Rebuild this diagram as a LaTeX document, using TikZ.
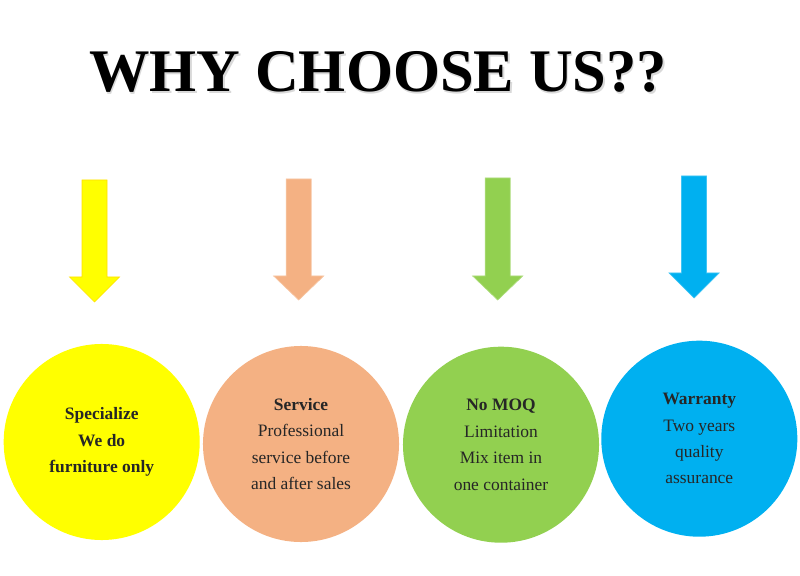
\documentclass[tikz,border=0pt]{standalone}
\usepackage{fontspec}
\setmainfont{Liberation Serif}
\definecolor{ylw}{HTML}{FFFF00}
\definecolor{peach}{HTML}{F4B183}
\definecolor{lime}{HTML}{92D050}
\definecolor{sky}{HTML}{00B0F0}
\tikzset{
  bubble/.style={circle, minimum size=4.9cm, inner sep=0pt, align=center,
    text=black!85, font=\fontsize{12.4}{18.8}\selectfont},
  blockarrow/.style={line width=0.5pt, line join=miter}
}
\begin{document}
\begin{tikzpicture}[x=0.025cm,y=-0.025cm]
    \useasboundingbox (0,0) rectangle (800,576);

    % Titulo
    \node[font=\fontsize{43}{50}\selectfont\bfseries, text=black!15] (titleshadow) at (379.5,73.5) {WHY CHOOSE US??};
    \node[font=\fontsize{43}{50}\selectfont\bfseries] (title) at (378,72) {WHY CHOOSE US??};

    % Setas grossas para baixo
    \foreach \x/\t/\h/\b/\c/\e in {94.5/180/277/302/ylw/orange, 298.7/179/276/300/peach/white,
                                   497.7/178/276/300/lime/white, 694/176/273/298/sky/white}
      \filldraw[blockarrow, fill=\c, draw=\c!75!\e]
        (\x-12.5,\t) -- (\x+12.5,\t) -- (\x+12.5,\h) -- (\x+25,\h) -- (\x,\b)
        -- (\x-25,\h) -- (\x-12.5,\h) -- cycle;

    % Circulos
    \node[bubble, fill=ylw] (specialize) at (101.7,442)
      {\textbf{Specialize}\\ \textbf{We do}\\ \textbf{furniture only}};
    \node[bubble, fill=peach] (service) at (301,444)
      {\textbf{Service}\\ Professional\\ service before\\ and after sales};
    \node[bubble, fill=lime] (nomoq) at (501,444.7)
      {\textbf{No MOQ}\\ Limitation\\ Mix item in\\ one container};
    \node[bubble, fill=sky] (warranty) at (699.3,438.7)
      {\textbf{Warranty}\\ Two years\\ quality\\ assurance};
\end{tikzpicture}
\end{document}
